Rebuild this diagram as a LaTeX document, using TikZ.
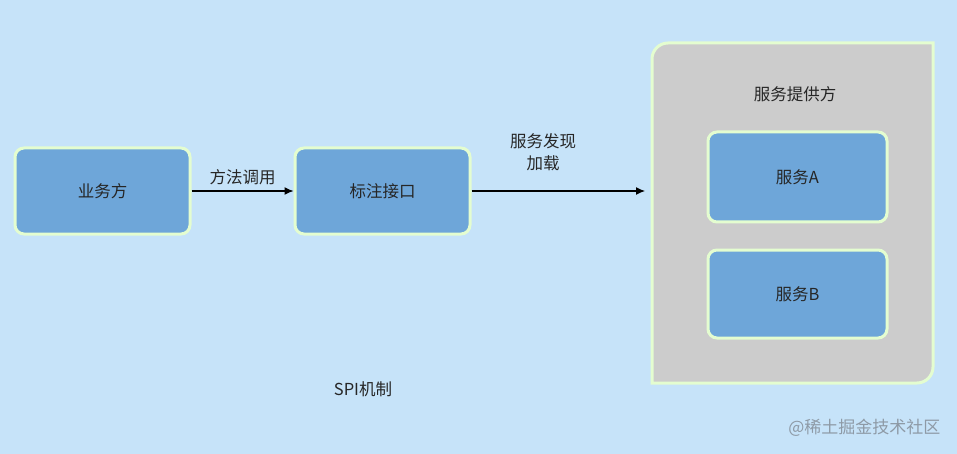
\documentclass[tikz,border=0pt]{standalone}
\usepackage{fontspec}
\setmainfont{Noto Sans CJK SC}
\usetikzlibrary{arrows.meta}
\definecolor{bgblue}{HTML}{C6E3F9}
\definecolor{boxblue}{HTML}{6EA6D9}
\definecolor{edgegreen}{HTML}{E4FDD0}
\definecolor{panelgray}{HTML}{CCCCCC}
\definecolor{markgray}{HTML}{8E9AA6}
\tikzset{
  bluebox/.style={draw=edgegreen, line width=3pt, fill=boxblue, rounded corners=9pt,
    minimum width=175pt, minimum height=86pt, inner sep=0pt, font=\fontsize{16.5}{19}\selectfont, text=black!85},
  conn/.style={line width=1.2pt, -{Latex[length=9pt,width=8pt]}},
  lbl/.style={font=\fontsize{16.5}{22}\selectfont, text=black!85, align=center},
}
\begin{document}
\begin{tikzpicture}[x=1pt,y=-1pt]
\fill[bgblue] (0,0) rectangle (957,454);
\useasboundingbox (0,0) rectangle (957,454);
% container panel: rounded top-left and bottom-right
\draw[draw=edgegreen, line width=3pt, fill=panelgray]
  (652,60) [rounded corners=16pt] -- (652,43) [sharp corners] -- (933,43) -- (933,366)
  [rounded corners=16pt] -- (933,383) [sharp corners] -- (652,383) -- cycle;
\node[lbl] (prov) at (795,94) {服务提供方};
\node[bluebox, minimum width=179pt, minimum height=90pt] (sa) at (797.5,177) {服务A};
\node[bluebox, minimum width=179pt, minimum height=88pt] (sb) at (797.5,294) {服务B};
\coordinate (pin) at (645,191);
\node[bluebox] (biz) at (102.5,191) {业务方};
\node[bluebox] (ifc) at (382.5,191) {标注接口};
\draw[conn] (biz.east) -- (ifc.west) node[midway, above=2pt, lbl] (l1) {方法调用};
\draw[conn] (ifc.east) -- (pin);
\node[lbl] (l2) at (543,152) {服务发现\\加载};
\node[lbl] (spi) at (363,389) {SPI机制};
\node[font=\fontsize{17}{20}\selectfont, text=markgray, anchor=east] (wm) at (944,428) {@稀土掘金技术社区};
\end{tikzpicture}
\end{document}
